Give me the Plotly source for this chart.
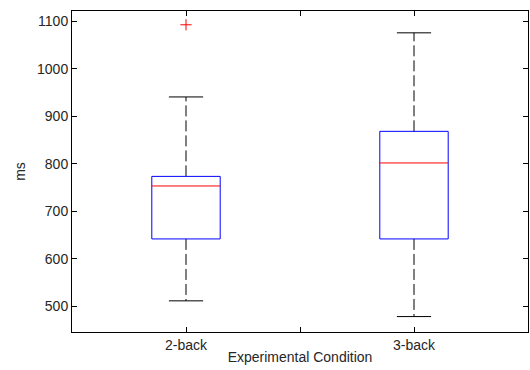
import plotly.graph_objects as go

# Summary statistics of reaction times (ms) per condition
conditions = ["2-back", "3-back"]
positions = [1, 2]
q1 = [642, 642]
median = [753.5, 802]
q3 = [773.7, 868.6]
lower_whisker = [511.6, 478.5]
upper_whisker = [941, 1076]
outlier_pos = [1]
outlier_val = [1093]

box_half = 0.15
cap_half = 0.075

fig = go.Figure()

for pos, a, m, b, lo, hi in zip(positions, q1, median, q3, lower_whisker, upper_whisker):
    # whiskers (dashed) from box edges to caps
    fig.add_trace(go.Scatter(
        x=[pos, pos, None, pos, pos], y=[b, hi, None, a, lo],
        mode="lines", line=dict(color="black", width=1, dash="11px,4px"),
        hoverinfo="skip", showlegend=False))
    # whisker caps
    fig.add_trace(go.Scatter(
        x=[pos - cap_half, pos + cap_half, None, pos - cap_half, pos + cap_half],
        y=[hi, hi, None, lo, lo],
        mode="lines", line=dict(color="black", width=1),
        hoverinfo="skip", showlegend=False))
    # interquartile box
    fig.add_trace(go.Scatter(
        x=[pos - box_half, pos + box_half, pos + box_half, pos - box_half, pos - box_half],
        y=[a, a, b, b, a],
        mode="lines", line=dict(color="blue", width=1),
        hoverinfo="skip", showlegend=False))
    # median
    fig.add_trace(go.Scatter(
        x=[pos - box_half, pos + box_half], y=[m, m],
        mode="lines", line=dict(color="red", width=1),
        hoverinfo="skip", showlegend=False))

# outliers
fig.add_trace(go.Scatter(
    x=outlier_pos, y=outlier_val, mode="markers",
    marker=dict(symbol="cross-thin", size=8, line=dict(color="red", width=1)),
    showlegend=False))

font = dict(family="Liberation Sans, Arial, sans-serif", size=14, color="#262626")

fig.update_layout(
    width=530, height=370,
    margin=dict(l=72, r=2, t=11, b=38),
    paper_bgcolor="white", plot_bgcolor="white",
    font=font,
)
fig.update_xaxes(
    range=[0.5, 2.5], tickmode="array",
    tickvals=[1, 1.5, 2], ticktext=[conditions[0], "", conditions[1]],
    ticks="inside", ticklen=5, tickcolor="black", tickwidth=1,
    tickfont=dict(size=14),
    showline=True, linecolor="black", linewidth=1, mirror="ticks",
    showgrid=False, zeroline=False,
    title=dict(text="Experimental Condition", font=dict(size=14), standoff=0),
)
fig.update_yaxes(
    range=[446, 1122], tickmode="array",
    tickvals=[500, 600, 700, 800, 900, 1000, 1100],
    ticks="inside", ticklen=5, tickcolor="black", tickwidth=1,
    tickfont=dict(size=14),
    showline=True, linecolor="black", linewidth=1, mirror="ticks",
    showgrid=False, zeroline=False,
    title=dict(text="ms", font=dict(size=14), standoff=8),
)

fig.write_html("out.html")
